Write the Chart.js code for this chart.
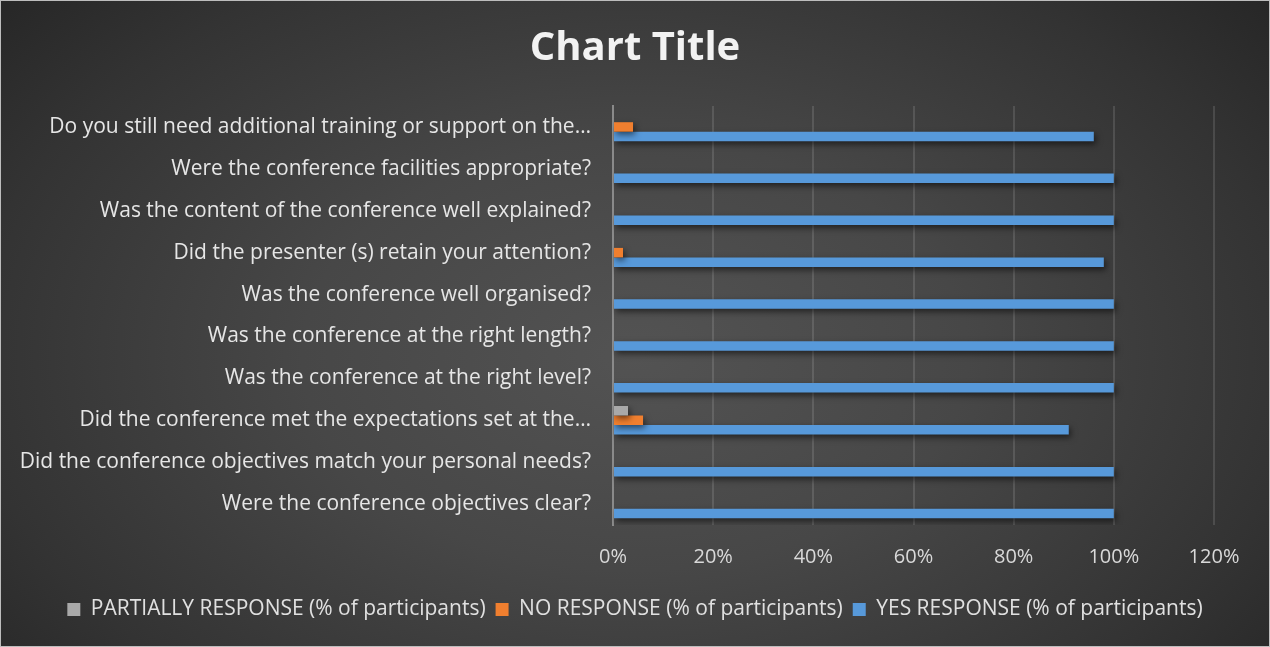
<!DOCTYPE html>
<html>
<head>
<meta charset="utf-8">
<script src="https://cdn.jsdelivr.net/npm/chart.js@4.4.1/dist/chart.umd.min.js"></script>
<style>
	html, body { margin: 0; padding: 0; background: #222; }
	#wrap {
		position: relative;
		width: 1270px;
		height: 647px;
		box-sizing: border-box;
		border: 1px solid #bdbdbd;
		background: radial-gradient(ellipse 75% 95% at 50% 55%, #535353 0%, #474747 35%, #333 70%, #1f1f1f 100%);
	}
</style>
</head>
<body>
<div id="wrap"><canvas id="survey_bar"></canvas></div>
<script>
// questions, top to bottom as shown
const questions = [
	'Do you still need additional training or support on the\u2026',
	'Were the conference facilities appropriate?',
	'Was the content of the conference well explained?',
	'Did the presenter (s) retain your attention?',
	'Was the conference well organised?',
	'Was the conference at the right length?',
	'Was the conference at the right level?',
	'Did the conference met the expectations set at the\u2026',
	'Did the conference objectives match your personal needs?',
	'Were the conference objectives clear?'
];
const partialPct = [0, 0, 0, 0, 0, 0, 0, 3, 0, 0];
const noPct      = [4, 0, 0, 2, 0, 0, 0, 6, 0, 0];
const yesPct     = [96, 100, 100, 98, 100, 100, 100, 91, 100, 100];
const xTicks = [0, 20, 40, 60, 80, 100, 120];

const labelFont = '"Open Sans", Lato, sans-serif';

// soft drop shadow under the bars
const barShadow = {
	id: 'barShadow',
	beforeDatasetsDraw(chart) {
		const ctx = chart.ctx;
		ctx.save();
		ctx.shadowColor = 'rgba(0,0,0,0.55)';
		ctx.shadowBlur = 6;
		ctx.shadowOffsetX = 2;
		ctx.shadowOffsetY = 3;
	},
	afterDatasetsDraw(chart) {
		chart.ctx.restore();
	}
};

const data = {
	labels: questions,
	datasets: [{
		label: 'PARTIALLY RESPONSE (% of participants)',
		data: partialPct,
		backgroundColor: '#a9a9a9'
	}, {
		label: 'NO RESPONSE (% of participants)',
		data: noPct,
		backgroundColor: '#f07f2f'
	}, {
		label: 'YES RESPONSE (% of participants)',
		data: yesPct,
		backgroundColor: '#5799da'
	}]
};

const config = {
	type: 'bar',
	data: data,
	plugins: [barShadow],
	options: {
		indexAxis: 'y',
		responsive: true,
		maintainAspectRatio: false,
		animation: false,
		categoryPercentage: 0.68,
		barPercentage: 1.0,
		layout: {
			padding: { left: 0, right: 0, top: 0, bottom: 16 }
		},
		scales: {
			x: {
				min: 0,
				max: 120,
				afterBuildTicks: (scale) => { scale.ticks = xTicks.map(v => ({ value: v })); },
				ticks: {
					color: '#d9d9d9',
					font: { family: labelFont, size: 20 },
					padding: 20,
					callback: (v) => v + '%'
				},
				grid: {
					color: 'rgba(255,255,255,0.12)',
					lineWidth: 2,
					drawTicks: false
				},
				border: { display: false }
			},
			y: {
				afterFit: (scale) => { scale.width = 612; },
				ticks: {
					color: '#e6e6e6',
					font: { family: labelFont, size: 21 },
					padding: 22
				},
				grid: { display: false, drawTicks: false },
				border: { display: true, color: '#8a8a8a', width: 2 }
			},
			// empty right-hand spacer so the plot stops at 120%
			yRight: {
				type: 'category',
				position: 'right',
				afterFit: (scale) => { scale.width = 55; },
				ticks: { display: false },
				grid: { display: false, drawTicks: false },
				border: { display: false }
			}
		},
		plugins: {
			title: {
				display: true,
				text: 'Chart Title',
				color: '#f2f2f2',
				font: { family: labelFont, size: 40, weight: 'bold' },
				padding: { top: 24, bottom: 33 }
			},
			legend: {
				position: 'bottom',
				labels: {
					color: '#e0e0e0',
					font: { family: labelFont, size: 21 },
					boxWidth: 13,
					boxHeight: 13,
					padding: 10
				}
			},
			tooltip: { enabled: false }
		}
	}
};

const canvas = document.getElementById('survey_bar');
const chart = new Chart(canvas.getContext('2d'), config);
</script>
</body>
</html>
